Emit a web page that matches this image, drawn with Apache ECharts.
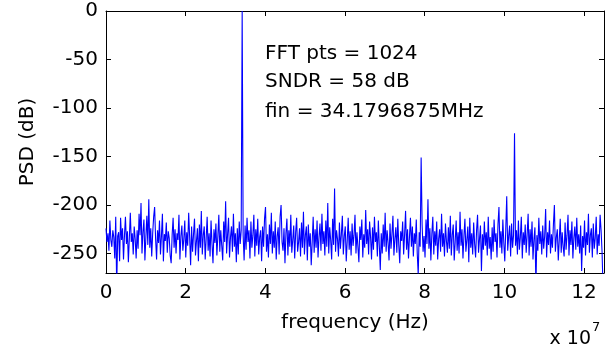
<!DOCTYPE html>
<html>
<head>
<meta charset="utf-8">
<script src="https://cdn.jsdelivr.net/npm/echarts@6/dist/echarts.min.js"></script>
<style>html,body{margin:0;padding:0;background:#fff}#c{width:610px;height:354px}</style>
</head>
<body>
<div id="c"></div>
<script>
const FS = 250e6;
const NFFT = 1024;
const xTicks = [0, 2e7, 4e7, 6e7, 8e7, 10e7, 12e7];
const yTicks = [-250, -200, -150, -100, -50, 0];
const annotations = ['FFT pts = 1024', 'SNDR = 58 dB', 'fin = 34.1796875MHz'];
const psd = [
-224,-238,-229,-247,-216,-236,-243,-226,-233,-255,-212,-285,-232,-228,-258,-213,
-236,-224,-256,-231,-212,-240,-227,-259,-234,-208,-238,-229,-251,-222,-235,-255,
-226,-245,-209,-231,-198,-250,-228,-215,-257,-233,-211,-241,-194,-244,-224,-253,
-229,-212,-202,-235,-256,-226,-239,-216,-251,-232,-209,-258,-230,-237,-218,-249,
-227,-234,-252,-260,-231,-213,-244,-225,-250,-229,-236,-210,-256,-232,-221,-247,
-235,-216,-254,-228,-242,-208,-233,-262,-222,-248,-230,-214,-252,-237,-224,-258,
-220,-244,-206,-251,-231,-222,-256,-234,-212,-247,-229,-253,-216,-240,-260,-225,
-239,-219,-252,-232,-210,-248,-226,-242,-257,-217,-238,-196,-250,-230,-213,-254,
-233,-222,-248,-209,-243,-229,-259,-224,-251,-217,-240,-226,0,-231,-257,-221,
-246,-213,-238,-226,-255,-217,-244,-231,-210,-253,-225,-242,-214,-251,-233,-226,
-258,-222,-243,-214,-202,-248,-230,-254,-220,-240,-208,-250,-227,-244,-217,-256,
-232,-223,-251,-212,-200,-238,-247,-224,-260,-229,-214,-252,-226,-243,-210,-249,
-236,-221,-255,-228,-213,-248,-238,-224,-253,-218,-244,-207,-251,-231,-222,-257,
-220,-243,-229,-262,-238,-212,-249,-225,-244,-216,-254,-233,-219,-247,-209,-240,
-227,-252,-216,-243,-198,-250,-223,-236,-256,-214,-241,-183,-248,-226,-235,-253,
-218,-245,-230,-211,-251,-232,-222,-258,-237,-213,-246,-227,-252,-219,-242,-231,
-210,-250,-228,-243,-259,-222,-236,-215,-254,-230,-244,-205,-240,-225,-251,-217,
-233,-256,-223,-246,-212,-238,-228,-253,-216,-242,-267,-229,-250,-220,-243,-208,
-248,-226,-239,-257,-219,-245,-230,-211,-252,-235,-223,-249,-214,-241,-260,-227,
-237,-217,-251,-230,-206,-246,-225,-255,-233,-213,-243,-222,-253,-229,-240,-215,
-250,-272,-228,-243,-151,-220,-248,-232,-254,-215,-240,-194,-245,-224,-257,-230,
-212,-251,-227,-242,-217,-256,-235,-225,-248,-209,-243,-229,-253,-219,-237,-249,
-223,-245,-211,-252,-231,-220,-257,-238,-216,-247,-228,-250,-207,-242,-225,-255,
-232,-214,-248,-236,-222,-259,-213,-244,-229,-251,-218,-240,-254,-226,-210,-249,
-235,-221,-268,-230,-246,-217,-242,-228,-252,-212,-245,-233,-256,-223,-248,-215,
-238,-229,-254,-220,-202,-244,-227,-250,-215,-239,-258,-225,-191,-247,-232,-221,
-253,-219,-244,-231,-126,-242,-226,-251,-216,-246,-233,-212,-255,-228,-241,-220,
-249,-230,-209,-252,-225,-243,-217,-256,-235,-223,-285,-231,-247,-213,-240,-227,
-251,-221,-245,-232,-204,-254,-228,-241,-216,-250,-230,-244,-220,-200,-248,-233,
-225,-257,-236,-214,-249,-228,-243,-253,-218,-246,-231,-210,-252,-226,-241,-217,
-255,-234,-222,-246,-213,-243,-230,-250,-221,-268,-232,-244,-216,-252,-228,-241,
-209,-249,-231,-224,-254,-219,-245,-234,-212,-251,-230,-242,-210,-226,-248,-285
];
const FONT = 'DejaVu Sans';
const data = psd.map((v, i) => [i * FS / NFFT, v]);
const chart = echarts.init(document.getElementById('c'), null, {renderer: 'canvas'});
const axLine = {show: true, onZero: false, lineStyle: {color: '#000', width: 1}};
const tickIn = (vals) => ({show: true, inside: true, length: 5, lineStyle: {color: '#000', width: 1}, customValues: vals});
chart.setOption({
  animation: false,
  backgroundColor: '#fff',
  grid: {left: 106, right: 6, top: 11, bottom: 81, containLabel: false},
  xAxis: [{
    type: 'value', min: 0, max: 1.25e8, position: 'bottom',
    axisLine: axLine, axisTick: tickIn(xTicks), splitLine: {show: false},
    axisLabel: {customValues: xTicks, formatter: v => String(Math.round(v / 1e7)), color: '#000', fontFamily: FONT, fontSize: 20, margin: 10},
    name: 'frequency (Hz)', nameLocation: 'middle', nameGap: 40,
    nameTextStyle: {color: '#000', fontFamily: FONT, fontSize: 20}
  }, {
    type: 'value', min: 0, max: 1.25e8, position: 'top',
    axisLine: axLine, axisTick: tickIn(xTicks), splitLine: {show: false},
    axisLabel: {show: false}
  }],
  yAxis: [{
    type: 'value', min: -270, max: 0, position: 'left',
    axisLine: axLine, axisTick: tickIn(yTicks), splitLine: {show: false},
    axisLabel: {customValues: yTicks, color: '#000', fontFamily: FONT, fontSize: 20, margin: 8},
    name: 'PSD (dB)', nameLocation: 'middle', nameGap: 68, nameRotate: 90,
    nameTextStyle: {color: '#000', fontFamily: FONT, fontSize: 20}
  }, {
    type: 'value', min: -270, max: 0, position: 'right',
    axisLine: axLine, axisTick: tickIn(yTicks), splitLine: {show: false},
    axisLabel: {show: false}
  }],
  series: [{
    type: 'line', data: data, showSymbol: false, symbol: 'none',
    lineStyle: {color: '#0000ff', width: 1.1}, clip: true
  }],
  graphic: [
    {type: 'text', left: 265, top: 44, style: {text: annotations[0], fill: '#000', font: '20px "DejaVu Sans"'}},
    {type: 'text', left: 265, top: 72, style: {text: annotations[1], fill: '#000', font: '20px "DejaVu Sans"'}},
    {type: 'text', left: 265, top: 102, style: {text: annotations[2], fill: '#000', font: '20px "DejaVu Sans"'}},
    {type: 'text', right: 19, top: 330, style: {text: 'x 10', fill: '#000', font: '19px "DejaVu Sans"'}},
    {type: 'text', left: 592, top: 321, style: {text: '7', fill: '#000', font: '13px "DejaVu Sans"'}}
  ]
});
</script>
</body>
</html>
